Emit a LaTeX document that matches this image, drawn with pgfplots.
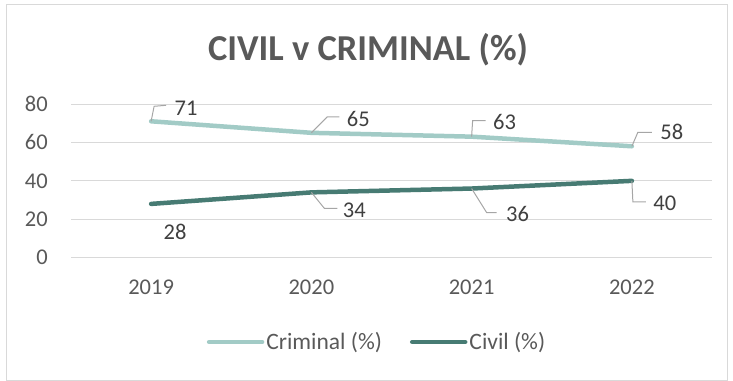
\documentclass[border=0pt]{standalone}
\usepackage{fontspec}
\setmainfont{Carlito}
\usepackage{pgfplots}
\pgfplotsset{compat=1.18}
\definecolor{crim}{HTML}{A2CBC6}
\definecolor{civ}{HTML}{477B73}
\definecolor{txt}{HTML}{595959}
\definecolor{lbl}{HTML}{404040}
\definecolor{gridc}{HTML}{D9D9D9}
\definecolor{lead}{HTML}{A6A6A6}
\newcommand{\lblfont}{\fontsize{22.5bp}{26bp}\selectfont}
\begin{document}
\begin{tikzpicture}
\useasboundingbox (0bp,0bp) rectangle (733bp,381bp);
\draw[gridc, line width=1bp] (6.5bp,0.5bp) rectangle (727.5bp,376bp);
\node[font=\fontsize{36.5bp}{40bp}\selectfont\bfseries, text=txt] at (368bp,331bp) {CIVIL v CRIMINAL (\%)};
\begin{axis}[
  at={(71bp,123.3bp)}, anchor=south west,
  width=641bp, height=153.7bp, scale only axis,
  xmin=-0.5, xmax=3.5, ymin=0, ymax=80,
  xtick={0,1,2,3}, xticklabels={2019,2020,2021,2022},
  ytick={0,20,40,60,80},
  axis line style={draw=none},
  major tick length=0pt,
  ymajorgrids, grid style={gridc, line width=1bp},
  tick label style={font=\lblfont, text=txt, inner sep=0pt},
  yticklabel style={anchor=east, xshift=-23bp},
  xticklabel style={anchor=north, yshift=-22bp},
  /pgf/number format/assume math mode=true,
  clip=false,
  legend columns=2,
  legend style={at={(0.4774,-0.5485)}, anchor=center, draw=none, fill=none,
    font=\fontsize{23.5bp}{27bp}\selectfont, text=txt, inner sep=0pt, nodes={inner sep=2bp},
    /tikz/every even column/.append style={column sep=26bp}},
  legend image code/.code={\draw[#1, line width=4.5bp, line cap=round] (0bp,0bp) -- (53bp,0bp);},
]
\addplot[crim, line width=4.5bp, line cap=round, line join=round] coordinates {(0,71) (1,65) (2,63) (3,58)};
\addlegendentry{Criminal (\%)}
\addplot[civ, line width=4.5bp, line cap=round, line join=round] coordinates {(0,28) (1,34) (2,36) (3,40)};
\addlegendentry{Civil (\%)}
% leader lines
\draw[lead, line width=1bp] (axis cs:0,71) -- ++(3bp,15bp) -- ++(12bp,1bp);
\draw[lead, line width=1bp] (axis cs:1,65) -- ++(16bp,16bp) -- ++(12bp,0bp);
\draw[lead, line width=1bp] (axis cs:2,63) -- ++(1bp,16bp) -- ++(13bp,0bp);
\draw[lead, line width=1bp] (axis cs:3,58) -- ++(6bp,14bp) -- ++(14bp,0bp);
\draw[lead, line width=1bp] (axis cs:1,34) -- ++(13bp,-16bp) -- ++(13bp,0bp);
\draw[lead, line width=1bp] (axis cs:2,36) -- ++(15bp,-24bp) -- ++(10bp,0bp);
\draw[lead, line width=1bp] (axis cs:3,40) -- ++(1bp,-21bp) -- ++(13bp,0bp);
% data labels
\begin{scope}[every node/.style={font=\lblfont, text=lbl, inner sep=0pt}]
\node at ([xshift=35bp,yshift=13bp]axis cs:0,71) {71};
\node at ([xshift=47bp,yshift=14bp]axis cs:1,65) {65};
\node at ([xshift=33bp,yshift=15bp]axis cs:2,63) {63};
\node at ([xshift=40bp,yshift=14bp]axis cs:3,58) {58};
\node at ([xshift=24bp,yshift=-28bp]axis cs:0,28) {28};
\node at ([xshift=43bp,yshift=-18bp]axis cs:1,34) {34};
\node at ([xshift=46bp,yshift=-25bp]axis cs:2,36) {36};
\node at ([xshift=33bp,yshift=-22bp]axis cs:3,40) {40};
\end{scope}
\end{axis}
\end{tikzpicture}
\end{document}
